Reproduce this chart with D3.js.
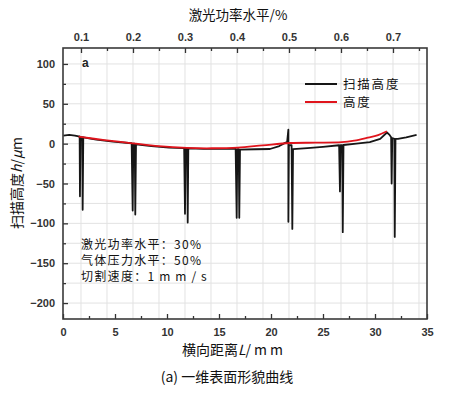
<!DOCTYPE html>
<html>
<head>
<meta charset="utf-8">
<script src="https://cdn.jsdelivr.net/npm/d3@7"></script>
<style>
  body { margin: 0; background: #fff; }
  text { font-family: "Liberation Sans", Arial, sans-serif; }
  .cjk { font-family: "Noto Sans CJK SC", "Noto Sans", sans-serif; }
</style>
</head>
<body>
<svg id="chart" width="452" height="396"></svg>
<script>
// scanned profile (black line), x in mm, y in µm
const scanX = [0.03, 0.6, 1.15, 1.5, 1.6, 1.63, 1.68, 1.85, 1.89, 1.95, 3.2, 4.8, 6.6,
  6.7, 6.76, 6.9, 6.95, 7.02, 8.5, 10.2, 11.65,
  11.73, 11.79, 11.94, 11.99, 12.05, 13.5, 15.2, 16.6,
  16.7, 16.76, 16.9, 16.95, 17.02, 18.5, 19.9, 20.8, 21.35, 21.55,
  21.67, 21.67, 21.72, 21.98, 22.05, 22.12, 23.5, 25.0, 26.55,
  26.63, 26.69, 26.85, 26.9, 26.97, 28.2, 29.5, 30.5, 31.15, 31.4, 31.55,
  31.6, 31.66, 31.86, 31.9, 31.97, 32.2, 33.0, 34.0];
const scanY = [10, 11, 10, 9, 9, -66, 8, 8, -83, 8, 5, 2.5, 0.5,
  -84, 0, 0, -89, -1, -3, -5, -5.5,
  -88, -5.5, -5.5, -99, -6, -6.5, -6.5, -6.5,
  -93, -7, -7, -93, -7.5, -7, -6.7, -3, 1, 2,
  17.5, -98, -2, -2, -107, -7, -5.5, -4, -2,
  -60, -2, -2, -111, -1.7, 0, 2, 6, 14, 11, 8,
  -50, 7, 6, -117, 6, 6, 8, 11];

// height (red line)
const fitX = [1.5, 4.0, 6.7, 9.2, 11.9, 14.3, 16.8, 19.2, 21.8, 24.3, 26.8, 28.0, 29.2, 30.3, 31.15];
const fitY = [8.7, 4.5, 0.4, -3.2, -5.4, -5.8, -5, -2.2, 0.8, 1.2, 1.8, 3.8, 7.2, 10.8, 15.5];

const xTicks = [0, 5, 10, 15, 20, 25, 30, 35];
const xMinorTicks = [2.5, 7.5, 12.5, 17.5, 22.5, 27.5, 32.5];
const yTicks = [100, 50, 0, -50, -100, -150, -200];
const yMinorTicks = [75, 25, -25, -75, -125, -175];
const topTicks = [0.1, 0.2, 0.3, 0.4, 0.5, 0.6, 0.7];
const topMinorTicks = [0.15, 0.25, 0.35, 0.45, 0.55, 0.65, 0.75];
const gridY = [100, 75, 50, 25, 0, -25, -50, -75, -100, -125, -150, -175, -200];

const legendLabels = ["扫描高度", "高度"];
const noteLines = [["激光功率水平：30%", ""], ["气体压力水平：50%", ""], ["切割速度：", "1mm/s"]];

const svg = d3.select("#chart");
const pLeft = 63, pRight = 427, pTop = 48, pBottom = 319;

const x = d3.scaleLinear().domain([0, 35]).range([pLeft, pRight]);
const y = d3.scaleLinear().domain([-220, 120]).range([pBottom, pTop]);
const xTop = d3.scaleLinear().domain([0.0654, 0.7654]).range([pLeft, pRight]);

// grid
const grid = svg.append("g").attr("stroke", "#e2e2e2").attr("stroke-width", 1);
grid.selectAll("line.v")
    .data(topTicks.concat(topMinorTicks))
    .enter().append("line")
    .attr("x1", d => xTop(d)).attr("x2", d => xTop(d))
    .attr("y1", pTop).attr("y2", pBottom);
grid.selectAll("line.h")
    .data(gridY)
    .enter().append("line")
    .attr("x1", pLeft).attr("x2", pRight)
    .attr("y1", d => y(d)).attr("y2", d => y(d));

// axes (ticks pointing inwards)
svg.append("g")
    .attr("transform", `translate(0,${pBottom})`)
    .call(d3.axisBottom(x).tickValues(xTicks).tickSize(-5).tickPadding(9));
svg.append("g")
    .attr("transform", `translate(0,${pBottom})`)
    .call(d3.axisBottom(x).tickValues(xMinorTicks).tickSize(-3).tickFormat(""));

svg.append("g")
    .attr("transform", `translate(${pLeft},0)`)
    .call(d3.axisLeft(y).tickValues(yTicks).tickSize(-5).tickPadding(8));
svg.append("g")
    .attr("transform", `translate(${pLeft},0)`)
    .call(d3.axisLeft(y).tickValues(yMinorTicks).tickSize(-3).tickFormat(""));

svg.append("g")
    .attr("transform", `translate(0,${pTop})`)
    .call(d3.axisTop(xTop).tickValues(topTicks).tickSize(-5).tickPadding(7).tickFormat(d3.format(".1f")));
svg.append("g")
    .attr("transform", `translate(0,${pTop})`)
    .call(d3.axisTop(xTop).tickValues(topMinorTicks).tickSize(-3).tickFormat(""));

svg.selectAll(".domain").remove();
svg.selectAll(".tick line").attr("stroke", "#333").attr("stroke-width", 1.3);
svg.selectAll(".tick text").attr("font-size", 11).attr("fill", "#333").attr("font-weight", "bold");

// data lines
svg.append("path")
    .datum(d3.range(scanX.length))
    .attr("fill", "none")
    .attr("stroke", "#161616")
    .attr("stroke-width", 1.8)
    .attr("stroke-linejoin", "round")
    .attr("d", d3.line().x(i => x(scanX[i])).y(i => y(scanY[i])));

svg.append("path")
    .datum(d3.range(fitX.length))
    .attr("fill", "none")
    .attr("stroke", "#e0141c")
    .attr("stroke-width", 1.8)
    .attr("d", d3.line().curve(d3.curveCatmullRom).x(i => x(fitX[i])).y(i => y(fitY[i])));

// frame
svg.append("rect")
    .attr("x", pLeft).attr("y", pTop)
    .attr("width", pRight - pLeft).attr("height", pBottom - pTop)
    .attr("fill", "none").attr("stroke", "#3a3a3a").attr("stroke-width", 1.6);

// legend
const legendColors = ["#161616", "#e0141c"];
const legend = svg.append("g");
legendLabels.forEach((lab, i) => {
    const ly = 84 + i * 18;
    legend.append("line")
        .attr("x1", 305).attr("x2", 337).attr("y1", ly).attr("y2", ly)
        .attr("stroke", legendColors[i]).attr("stroke-width", 2);
    legend.append("text").attr("class", "cjk")
        .attr("x", 343).attr("y", ly).attr("dy", "0.36em")
        .attr("font-size", 12.5).attr("letter-spacing", 1.8).attr("fill", "#111")
        .text(lab);
});

// panel letter
svg.append("text")
    .attr("x", 82).attr("y", 67)
    .attr("font-size", 12).attr("font-weight", "bold").attr("fill", "#222")
    .text("a");

// notes
noteLines.forEach((t, i) => {
    const nt = svg.append("text").attr("class", "cjk")
        .attr("x", 81).attr("y", 245 + i * 16).attr("dy", "0.36em")
        .attr("font-size", 12).attr("letter-spacing", 1.3).attr("fill", "#111");
    nt.append("tspan").text(t[0]);
    if (t[1]) nt.append("tspan").attr("letter-spacing", 5).text(t[1]);
});

// titles
svg.append("text").attr("class", "cjk")
    .attr("x", 238).attr("y", 15).attr("dy", "0.36em")
    .attr("text-anchor", "middle").attr("font-size", 13.5).attr("fill", "#111")
    .text("激光功率水平/%");

const xl = svg.append("text").attr("class", "cjk")
    .attr("x", 234).attr("y", 350).attr("dy", "0.36em")
    .attr("text-anchor", "middle").attr("font-size", 14).attr("fill", "#111");
xl.append("tspan").text("横向距离");
xl.append("tspan").attr("font-style", "italic").text("L");
xl.append("tspan").attr("letter-spacing", 3).text("/mm");

const yl = svg.append("text").attr("class", "cjk")
    .attr("transform", "translate(17,183) rotate(-90)")
    .attr("dy", "0.36em")
    .attr("text-anchor", "middle").attr("font-size", 14).attr("fill", "#111");
yl.append("tspan").text("扫描高度");
yl.append("tspan").attr("font-style", "italic").text("h");
yl.append("tspan").text("/");
yl.append("tspan").attr("font-style", "italic").text("μ");
yl.append("tspan").text("m");

svg.append("text").attr("class", "cjk")
    .attr("x", 227).attr("y", 377).attr("dy", "0.36em")
    .attr("text-anchor", "middle").attr("font-size", 14).attr("fill", "#111")
    .text("(a) 一维表面形貌曲线");
</script>
</body>
</html>
